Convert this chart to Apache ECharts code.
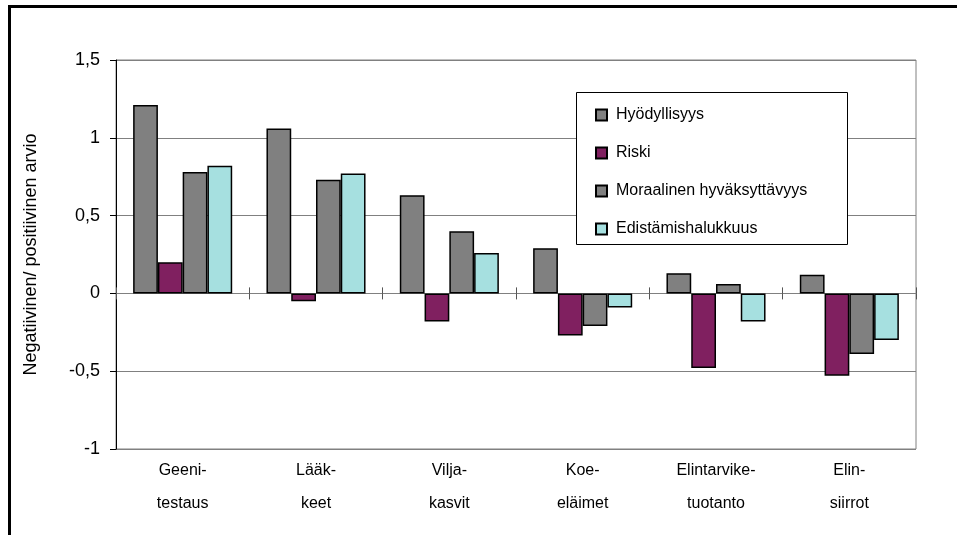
<!DOCTYPE html>
<html>
<head>
<meta charset="utf-8">
<script src="https://cdn.jsdelivr.net/npm/echarts@6/dist/echarts.min.js"></script>
<style>
  html, body { margin: 0; padding: 0; background: #fff; }
  #chart { width: 957px; height: 535px; }
</style>
</head>
<body>
<div id="chart"></div>
<script>
// Categories (two-line labels)
const categories = ['Geeni-\ntestaus', 'Lääk-\nkeet', 'Vilja-\nkasvit', 'Koe-\neläimet', 'Elintarvike-\ntuotanto', 'Elin-\nsiirrot'];

// Series values
const hyodyllisyys = [1.21, 1.06, 0.63, 0.29, 0.13, 0.12];
const riski = [0.20, -0.05, -0.18, -0.27, -0.48, -0.53];
const moraalinen = [0.78, 0.73, 0.40, -0.21, 0.06, -0.39];
const edistamis = [0.82, 0.77, 0.26, -0.09, -0.18, -0.30];

const seriesNames = ['Hyödyllisyys', 'Riski', 'Moraalinen hyväksyttävyys', 'Edistämishalukkuus'];
const seriesColors = ['#808080', '#802060', '#808080', '#a6e0e0'];
const seriesData = [hyodyllisyys, riski, moraalinen, edistamis];

// Value axis
const yMin = -1, yMax = 1.5, yStep = 0.5;

const FONT = 'Liberation Sans, Arial, sans-serif';

const chart = echarts.init(document.getElementById('chart'), null, { renderer: 'canvas' });

const series = seriesNames.map((name, i) => ({
  name,
  type: 'bar',
  xAxisIndex: 0,
  yAxisIndex: 0,
  data: seriesData[i],
  barGap: '0%',
  barCategoryGap: '25.7%',
  itemStyle: { color: seriesColors[i], borderColor: '#000', borderWidth: 1.5 },
  emphasis: { disabled: true },
  z: 5
}));

const categoryTickAxis = (position, yIndex) => ({
  type: 'category', data: categories, position,
  axisLine: { show: true, onZero: true, onZeroAxisIndex: yIndex, lineStyle: { color: '#808080', width: 1 } },
  axisTick: { show: true, length: 6, lineStyle: { color: '#555' } },
  axisLabel: { show: false },
  splitLine: { show: false }
});

chart.setOption({
  animation: false,
  backgroundColor: '#fff',
  textStyle: { fontFamily: FONT },
  grid: {
    left: 116, right: 41, top: 60, bottom: 86,
    show: true, borderColor: '#808080', borderWidth: 1, backgroundColor: 'transparent'
  },
  graphic: [
    { type: 'rect', left: 7, top: 4, shape: { x: 0, y: 0, width: 1000, height: 600 },
      style: { fill: 'none', stroke: '#000', lineWidth: 3 }, z: 0 },
    { type: 'rect', shape: { x: 576.5, y: 92.5, width: 271, height: 152 },
      style: { fill: '#fff', stroke: '#000', lineWidth: 1 }, z: 3 }
  ],
  legend: {
    orient: 'vertical',
    left: 595, top: 107,
    padding: 0,
    itemWidth: 11, itemHeight: 11, itemGap: 22,
    icon: 'rect',
    selectedMode: false,
    textStyle: { fontFamily: FONT, fontSize: 16, color: '#000', padding: [0, 0, 0, 4] },
    data: seriesNames,
    z: 6
  },
  xAxis: [
    {
      type: 'category', data: categories, position: 'bottom',
      axisLine: { show: false, onZero: false },
      axisTick: { show: false },
      axisLabel: { fontFamily: FONT, fontSize: 16, color: '#000', lineHeight: 33, margin: 5, interval: 0 }
    },
    categoryTickAxis('bottom', 0),
    categoryTickAxis('top', 1)
  ],
  yAxis: [
    {
      type: 'value', min: yMin, max: yMax, interval: yStep,
      name: 'Negatiivinen/ positiivinen arvio',
      nameLocation: 'middle', nameGap: 76, nameRotate: 90,
      nameTextStyle: { fontFamily: FONT, fontSize: 18, color: '#000' },
      axisLine: { show: true, onZero: false, lineStyle: { color: '#000', width: 1 } },
      axisTick: { show: true, length: 6, lineStyle: { color: '#000' } },
      axisLabel: {
        fontFamily: FONT, fontSize: 18, color: '#000', margin: 16,
        formatter: v => String(v).replace('.', ',')
      },
      splitLine: { show: true, lineStyle: { color: '#808080', width: 1 } }
    },
    {
      // twin scale so the upward category ticks can also sit on zero
      type: 'value', min: yMin, max: yMax, interval: yStep, position: 'right',
      axisLine: { show: false, onZero: false },
      axisTick: { show: false },
      axisLabel: { show: false },
      splitLine: { show: false }
    }
  ],
  series
});
</script>
</body>
</html>
